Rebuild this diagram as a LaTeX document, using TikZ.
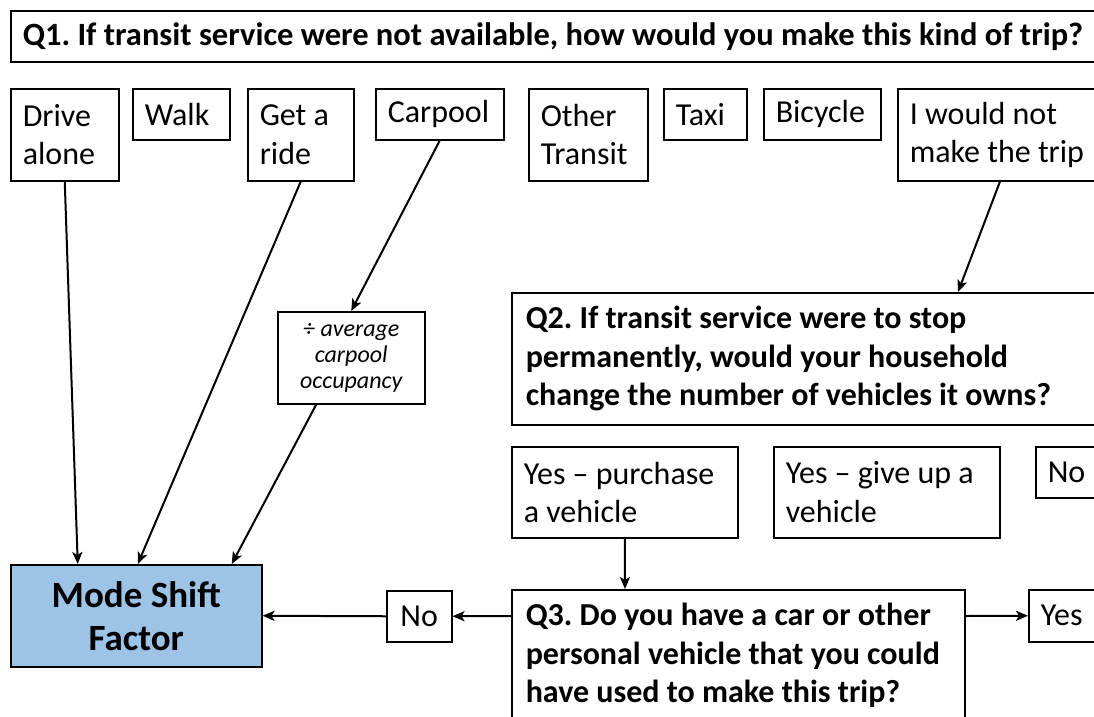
\documentclass[tikz,border=0pt]{standalone}
\usepackage{fontspec}
\setmainfont{Carlito}
\usetikzlibrary{arrows.meta}
\definecolor{msblue}{HTML}{9DC3E6}
\frenchspacing
\tikzset{
  box/.style={draw=black, line width=1.5pt, anchor=north west, inner xsep=12pt, inner ysep=0pt, align=flush left, font=\fontsize{32}{38.5}\selectfont},
  qbox/.style={box, font=\fontsize{32}{38.5}\selectfont\bfseries},
  arr/.style={line width=2pt, -{Stealth[length=12pt,width=10pt,inset=3pt]}},
}
\begin{document}
\begin{tikzpicture}[x=1pt,y=-1pt]
\useasboundingbox (0,0) rectangle (1094,716);
\fill[white] (0,0) rectangle (1094,716);
\begin{scope}
\clip (0,0) rectangle (1094,716);
\node[qbox, font=\fontsize{32.5}{38.5}\selectfont\bfseries, minimum width=1200pt, minimum height=51pt, text width=1176pt] (q1) at (10,10) {Q1. If transit service were not available, how would you make this kind of trip?};
\node[box, minimum width=108pt, minimum height=92pt, text width=84pt] (drive) at (10,88) {Drive\\alone};
\node[box, minimum width=97pt, minimum height=51pt, text width=73pt] (walk) at (132,88) {Walk};
\node[box, minimum width=106pt, minimum height=92pt, text width=82pt] (ride) at (247,88) {Get a\\ride};
\node[box, minimum width=128pt, minimum height=51pt, text width=104pt] (carpool) at (375,88) {Carpool};
\node[box, minimum width=119pt, minimum height=92pt, text width=95pt] (other) at (528,88) {Other\\Transit};
\node[box, minimum width=83pt, minimum height=51pt, text width=59pt] (taxi) at (663,88) {Taxi};
\node[box, minimum width=117pt, minimum height=51pt, text width=93pt] (bike) at (763,88) {Bicycle};
\node[box, minimum width=250pt, minimum height=92pt, text width=226pt] (notrip) at (897,88) {I would not\\make the trip};
\node[box, align=flush center, font=\fontsize{24}{26}\selectfont\itshape, minimum width=147pt, minimum height=92pt, inner xsep=4pt, text width=139pt] (div) at (277,311) {÷ average\\carpool\\occupancy};
\node[qbox, inner xsep=14pt, minimum width=700pt, minimum height=132pt, text width=672pt] (q2) at (511,292) {Q2. If transit service were to stop\\permanently, would your household\\change the number of vehicles it owns?};
\node[box, minimum width=226pt, minimum height=91pt, text width=202pt] (purch) at (511,446) {Yes – purchase\\a vehicle};
\node[box, minimum width=226pt, minimum height=91pt, text width=202pt] (giveup) at (773,446) {Yes – give up a\\vehicle};
\node[box, minimum width=100pt, minimum height=51pt, text width=76pt] (no2) at (1035,446) {No};
\node[box, fill=msblue, align=flush center, font=\fontsize{37}{43}\selectfont\bfseries, minimum width=251pt, minimum height=102pt, text width=227pt] (mode) at (10,564) {Mode Shift\\Factor};
\node[box, align=flush center, inner xsep=4pt, minimum width=65pt, minimum height=51pt, text width=57pt] (no1) at (386,590) {No};
\node[qbox, inner xsep=14pt, minimum width=453pt, minimum height=132pt, text width=425pt] (q3) at (511,589) {Q3. Do you have a car or other\\personal vehicle that you could\\have used to make this trip?};
\node[box, minimum width=100pt, minimum height=52pt, text width=76pt] (yes) at (1028,589) {Yes};
\draw[arr] (drive.south) -- ([xshift=-58.5pt]mode.north);
\draw[arr] (ride.south) -- ([xshift=1.5pt]mode.north);
\draw[arr] (carpool.south) -- (div.north);
\draw[arr] ([xshift=-35pt]div.south) -- ([xshift=95.5pt]mode.north);
\draw[arr] ([xshift=103pt]notrip.south west) -- ([xshift=447pt]q2.north west);
\draw[arr] (purch.south) -- ([xshift=114pt]q3.north west);
\draw[arr] ([yshift=-27pt]q3.north west) -- (no1.east);
\draw[arr] (no1.west) -- (mode.east);
\draw[arr] ([yshift=-27pt]q3.north east) -- (yes.west);
\end{scope}
\end{tikzpicture}
\end{document}
